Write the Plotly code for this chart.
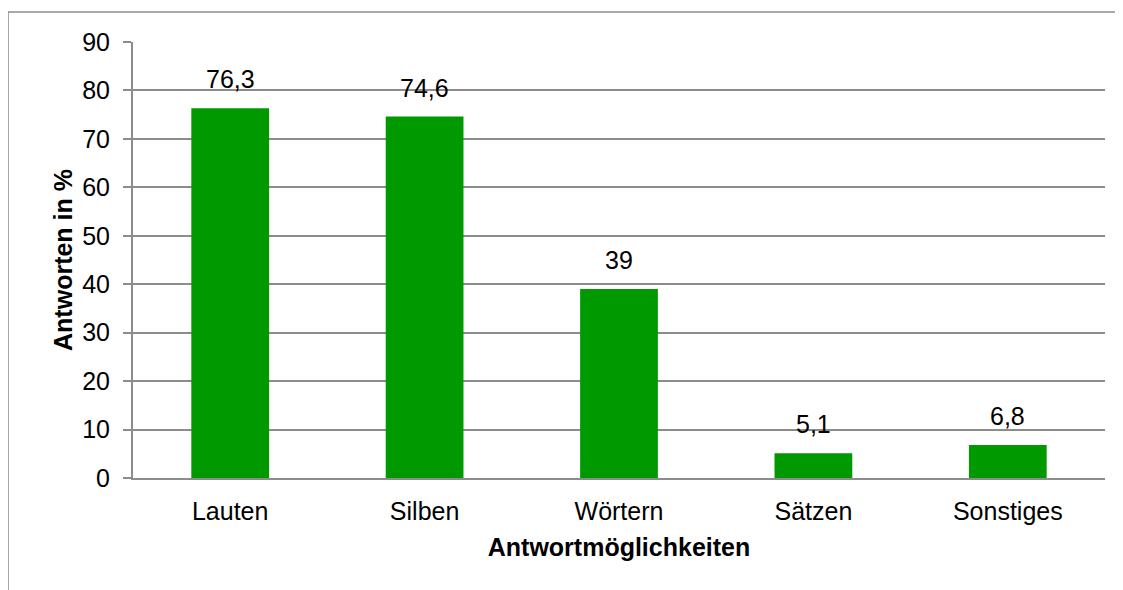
import plotly.graph_objects as go

categories = ["Lauten", "Silben", "Wörtern", "Sätzen", "Sonstiges"]
values = [76.3, 74.6, 39, 5.1, 6.8]
labels = ["76,3", "74,6", "39", "5,1", "6,8"]

GREEN = "#009900"
GRID = "#8c8c8c"
FONT = "Liberation Sans, Arial, sans-serif"

fig = go.Figure()

fig.add_trace(go.Bar(
    x=categories,
    y=values,
    marker=dict(color=GREEN, line=dict(width=0)),
    hoverinfo="x+y",
))

# data labels above bars
for cat, val, lab in zip(categories, values, labels):
    fig.add_annotation(
        x=cat, y=val, text=lab,
        showarrow=False, yanchor="bottom", yshift=13,
        font=dict(size=25, color="black", family=FONT),
    )

# outer chart frame (left and top edges visible)
fig.add_shape(
    type="rect", xref="paper", yref="paper",
    x0=-0.1286, x1=1.3, y0=-0.5, y1=1.0688,
    line=dict(color=GRID, width=1.5),
)

# page body adds an 8px offset, so the figure is 8px smaller
fig.update_layout(
    width=1115,
    height=582,
    margin=dict(l=125, r=18, t=34, b=112),
    paper_bgcolor="white",
    plot_bgcolor="white",
    bargap=0.6,
    showlegend=False,
    font=dict(family=FONT, size=25, color="black"),
    xaxis=dict(
        title=dict(text="<b>Antwortmöglichkeiten</b>", font=dict(size=25), standoff=14),
        showline=True,
        linecolor=GRID,
        linewidth=2,
        ticks="",
        ticklabelstandoff=10,
        tickfont=dict(size=25),
    ),
    yaxis=dict(
        title=dict(text="<b>Antworten in %</b>", font=dict(size=25), standoff=2),
        range=[0, 90],
        dtick=10,
        showline=True,
        linecolor=GRID,
        linewidth=2,
        ticks="outside",
        ticklen=8,
        tickcolor=GRID,
        tickwidth=2,
        gridcolor=GRID,
        gridwidth=2,
        zeroline=False,
        ticklabelstandoff=8,
        tickfont=dict(size=25),
    ),
)

fig.write_html("out.html")
